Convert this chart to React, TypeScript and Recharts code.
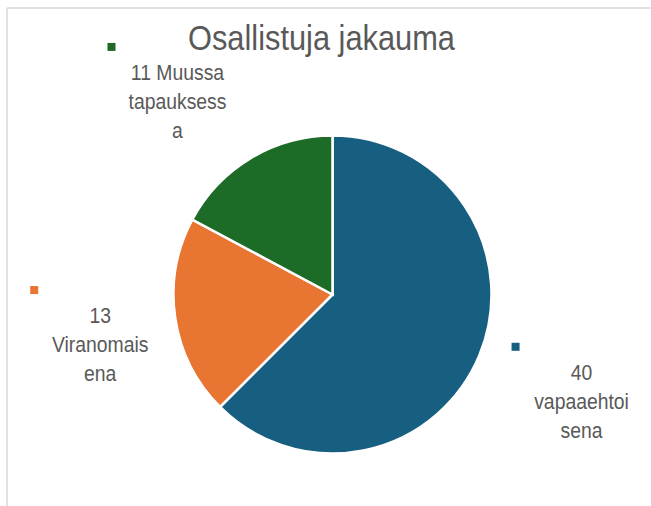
import { PieChart, Pie, Cell } from "recharts";

const categories = ["vapaaehtoisena", "Viranomaisena", "Muussa tapauksessa"];
const values = [40, 13, 11];
const labelLines = [
  ["40", "vapaaehtoi", "sena"],
  ["13", "Viranomais", "ena"],
  ["11 Muussa", "tapauksess", "a"],
];
const colors = ["#175f80", "#e97532", "#1c6b26"];
const title = "Osallistuja jakauma";

const W = 651;
const H = 506;
const CX = 332.5;
const CY = 294.5;
const R = 159;
// label placement: distance past the rim, then a small nudge each
const LABEL_GAP = 90;
const nudges = [
  { dx: 19, dy: -10 },
  { dx: 14, dy: -8 },
  { dx: -27, dy: -1 },
];
const TEXT = "#595959";
const FONT = "'Liberation Sans', Arial, sans-serif";
const SQUEEZE = 0.88;

const data = categories.map((name, i) => ({ name, value: values[i] }));

const RAD = Math.PI / 180;

function renderLabel(props: any) {
  const { cx, cy, midAngle, outerRadius, index } = props;
  const r = outerRadius + LABEL_GAP;
  const x = cx + r * Math.cos(midAngle * RAD) + nudges[index].dx;
  const y = cy - r * Math.sin(midAngle * RAD) + nudges[index].dy;
  const lines = labelLines[index];
  return (
    <g key={`lbl-${index}`}>
      <rect x={x - 70} y={y - 37} width={8} height={8} fill={colors[index]} />
      {lines.map((t, k) => (
        <text
          key={k}
          transform={`translate(${x},${y + k * 29}) scale(${SQUEEZE},1)`}
          textAnchor="middle"
          fontSize={22}
          fontFamily={FONT}
          fill={TEXT}
        >
          {t}
        </text>
      ))}
    </g>
  );
}

export default function App() {
  return (
    <div
      style={{
        position: "absolute",
        left: 0,
        top: 0,
        width: W,
        height: H,
        background: "#fff",
      }}
    >
      <svg
        width={W}
        height={H}
        style={{ position: "absolute", left: 0, top: 0 }}
      >
        <line x1={7} y1={8} x2={W} y2={8} stroke="#e2e2e2" strokeWidth={2} />
        <line x1={7} y1={8} x2={7} y2={H} stroke="#e2e2e2" strokeWidth={2} />
        <text
          transform={`translate(321.5,50) scale(${SQUEEZE},1)`}
          textAnchor="middle"
          fontSize={35}
          fontFamily={FONT}
          fill={TEXT}
        >
          {title}
        </text>
      </svg>
      <div style={{ position: "absolute", left: 0, top: 0 }}>
        <PieChart
          width={W}
          height={H}
          margin={{ top: 0, right: 0, bottom: 0, left: 0 }}
        >
          <Pie
            data={data}
            dataKey="value"
            nameKey="name"
            cx={CX}
            cy={CY}
            outerRadius={R}
            startAngle={90}
            endAngle={-270}
            stroke="#ffffff"
            strokeWidth={2.5}
            label={renderLabel}
            labelLine={false}
            isAnimationActive={false}
          >
            {data.map((d, i) => (
              <Cell key={d.name} fill={colors[i]} />
            ))}
          </Pie>
        </PieChart>
      </div>
    </div>
  );
}
